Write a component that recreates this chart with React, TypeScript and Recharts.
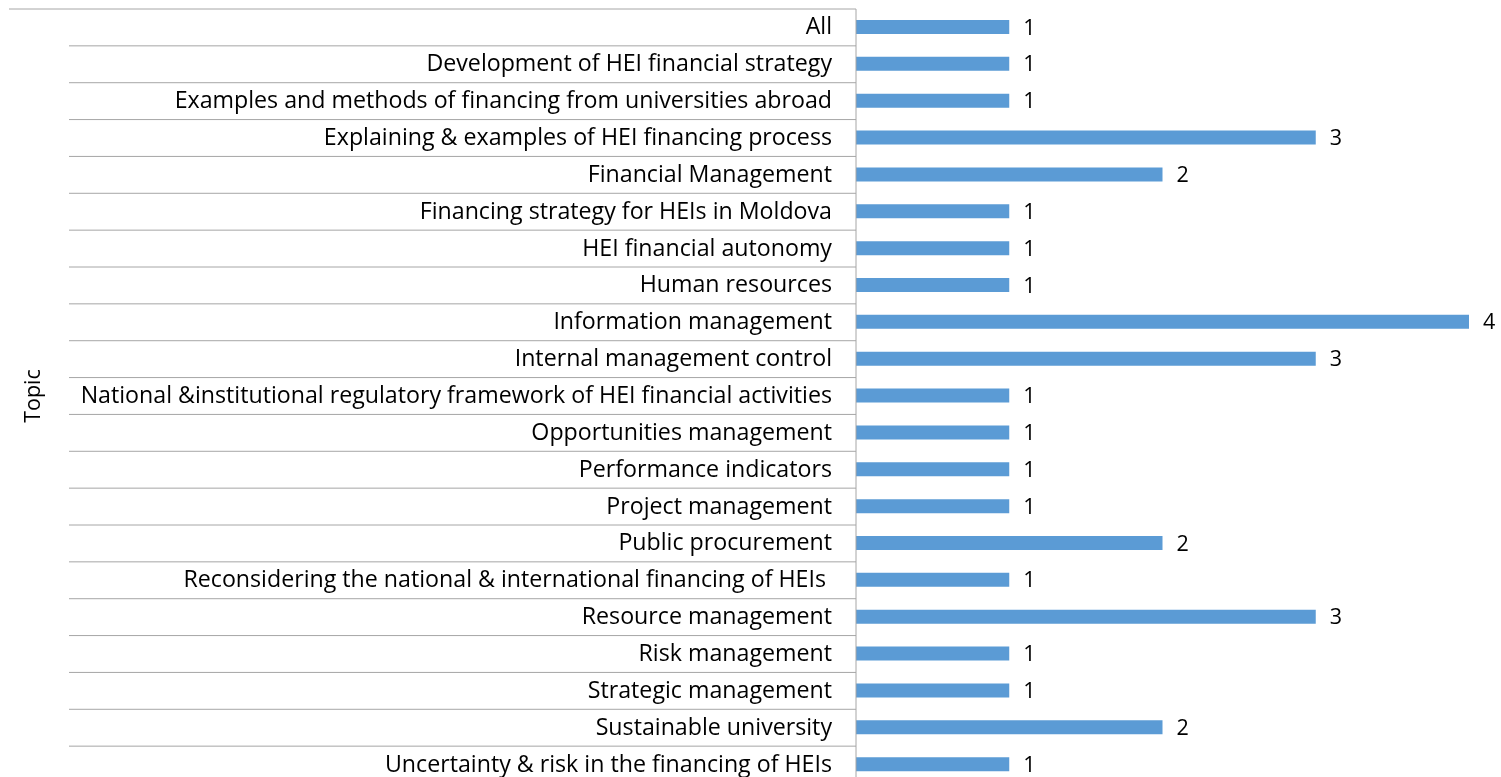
import { BarChart, Bar, XAxis, YAxis, LabelList } from "recharts";

const topics = [
  "All",
  "Development of HEI financial strategy",
  "Examples and methods of financing from universities abroad",
  "Explaining & examples of HEI financing process",
  "Financial Management",
  "Financing strategy for HEIs in Moldova",
  "HEI financial autonomy",
  "Human resources",
  "Information management",
  "Internal management control",
  "National &institutional regulatory framework of HEI financial activities",
  "Opportunities management",
  "Performance indicators",
  "Project management",
  "Public procurement",
  "Reconsidering the national & international financing of HEIs ",
  "Resource management",
  "Risk management",
  "Strategic management",
  "Sustainable university",
  "Uncertainty & risk in the financing of HEIs",
];
const counts = [1, 1, 1, 3, 2, 1, 1, 1, 4, 3, 1, 1, 1, 1, 2, 1, 3, 1, 1, 2, 1];

const data = topics.map((topic, i) => ({ topic, count: counts[i] }));

const FONT = "'Open Sans', 'Noto Sans', sans-serif";
const FS = 21.5;
const TICK_FS = 23.2;
const W = 1493;
const H = 775;
const TOP = 1;
const BAND = (H - TOP) / topics.length;
const AXIS_W = 848;

const TopicTick = (props: any) => {
  const { x, y, payload, index } = props;
  const top = y - BAND / 2;
  const bottom = y + BAND / 2;
  return (
    <g>
      <line
        x1={index === 0 ? 1 : 61}
        x2={AXIS_W}
        y1={top}
        y2={top}
        stroke="#a6a6a6"
      />
      {index === topics.length - 1 && (
        <line x1={1} x2={AXIS_W} y1={bottom} y2={bottom} stroke="#a6a6a6" />
      )}
      <text
        x={x}
        y={y}
        dy={7}
        textAnchor="end"
        fill="#000"
        fontSize={TICK_FS}
        fontFamily={FONT}
        style={{ whiteSpace: "pre" }}
      >
        {payload.value}
      </text>
    </g>
  );
};

export default function App() {
  return (
    <div style={{ position: "fixed", left: 8, top: 8, width: W, height: H }}>
      <BarChart
        layout="vertical"
        width={W}
        height={H}
        data={data}
        margin={{ top: TOP, right: 32, bottom: 0, left: 0 }}
        barCategoryGap={0}
      >
        <XAxis type="number" domain={[0, 4]} hide />
        <YAxis
          type="category"
          dataKey="topic"
          width={AXIS_W}
          interval={0}
          tickLine={false}
          axisLine={{ stroke: "#a6a6a6" }}
          tickMargin={24}
          tickSize={0}
          tick={<TopicTick />}
          label={{
            value: "Topic",
            angle: -90,
            position: "insideLeft",
            offset: 24,
            fontSize: FS,
            fill: "#000",
            fontFamily: FONT,
            style: { textAnchor: "middle" },
          }}
        />
        <Bar dataKey="count" fill="#5b9bd5" barSize={14} isAnimationActive={false}>
          <LabelList
            dataKey="count"
            position="right"
            offset={14}
            fontSize={FS}
            fill="#000"
            fontFamily={FONT}
          />
        </Bar>
      </BarChart>
    </div>
  );
}
